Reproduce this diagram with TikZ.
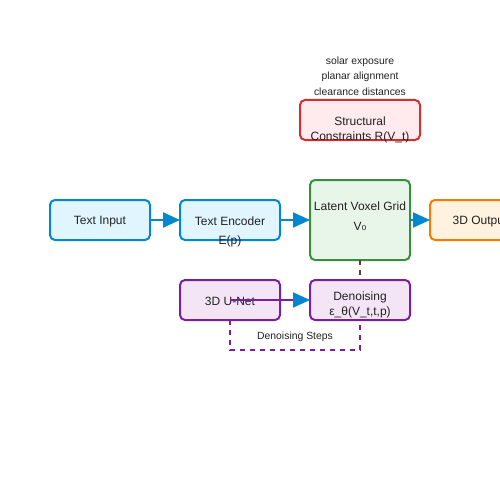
\documentclass[tikz,border=0pt]{standalone}
\usepackage{fontspec}
\setmainfont{Liberation Sans}
\newfontfamily\dejavu{DejaVu Sans}
\usetikzlibrary{arrows.meta}
\definecolor{bluestroke}{HTML}{0288D1}
\definecolor{bluefill}{HTML}{E1F5FE}
\definecolor{greenstroke}{HTML}{388E3C}
\definecolor{greenfill}{HTML}{E8F5E9}
\definecolor{orangestroke}{HTML}{F57C00}
\definecolor{orangefill}{HTML}{FFF3E0}
\definecolor{redstroke}{HTML}{D32F2F}
\definecolor{redfill}{HTML}{FFEBEE}
\definecolor{purplestroke}{HTML}{7B1FA2}
\definecolor{purplefill}{HTML}{F3E5F5}
\definecolor{brownline}{HTML}{5D4037}
\definecolor{txt}{HTML}{222222}
\tikzset{
  box/.style={draw, line width=2pt, rounded corners=5pt, inner sep=0pt, outer sep=0pt},
  lbl/.style={font=\fontsize{12}{14}\selectfont, text=txt, inner sep=0pt},
  small/.style={font=\fontsize{10.4}{12}\selectfont, text=txt, inner sep=0pt},
  head/.style={-{Triangle[length=17pt,width=15pt]}},
  flow/.style={line width=2pt, bluestroke, head},
}
\begin{document}
\begin{tikzpicture}[x=1pt,y=-1pt]
\useasboundingbox (0,0) rectangle (500,500);
\begin{scope}
\clip (0,0) rectangle (500,500);
% boxes
\node[box, draw=bluestroke, fill=bluefill, minimum width=100pt, minimum height=40pt] (input) at (100,220) {};
\node[box, draw=bluestroke, fill=bluefill, minimum width=100pt, minimum height=40pt] (enc) at (230,220) {};
\node[box, draw=greenstroke, fill=greenfill, minimum width=100pt, minimum height=80pt] (latent) at (360,220) {};
\node[box, draw=orangestroke, fill=orangefill, minimum width=100pt, minimum height=40pt] (out) at (480,220) {};
\node[box, draw=redstroke, fill=redfill, minimum width=120pt, minimum height=40pt] (cons) at (360,120) {};
\node[box, draw=purplestroke, fill=purplefill, minimum width=100pt, minimum height=40pt] (unet) at (230,300) {};
\node[box, draw=purplestroke, fill=purplefill, minimum width=100pt, minimum height=40pt] (den) at (360,300) {};
% labels
\node[lbl] (tinput) at (100,221.5) {Text Input};
\node[lbl] (tenc1) at (230,221.5) {Text Encoder};
\node[lbl] (tenc2) at (230,241.5) {E(p)};
\node[lbl] (tlat1) at (360,206.5) {Latent Voxel Grid};
\node[lbl] (tlat2) at (360,226.5) {V{\dejavu ₀}};
\node[lbl] (tout) at (480,221.5) {3D Output};
\node[lbl] (tcons1) at (360,121.5) {Structural};
\node[lbl] (tcons2) at (360,137) {Constraints R(V\_t)};
\node[lbl] (tunet) at (230,301.5) {3D U-Net};
\node[lbl] (tden1) at (360,297.5) {Denoising};
\node[lbl] (tden2) at (360,312.5) {ε\_θ(V\_t,t,p)};
\node[small] (a1) at (360,62) {solar exposure};
\node[small] (a2) at (360,77) {planar alignment};
\node[small] (a3) at (360,92) {clearance distances};
% connectors
\draw[flow] (input.east) -- (enc.west);
\draw[flow] (enc.east) -- (latent.west);
\draw[flow] (latent.east) -- (out.west);
\draw[line width=2pt, purplestroke] (unet.center) -- ([xshift=-15pt]den.west);
\draw[line width=2pt, bluestroke, head] ([xshift=-17pt]den.west) -- (den.west);
\draw[line width=1.5pt, brownline, dash pattern=on 5pt off 5pt] (latent.south) -- (den.north);
\coordinate (c1) at (230,350);
\coordinate (c2) at (360,350);
\draw[line width=1.5pt, purplestroke, dash pattern=on 5pt off 5pt] (unet.south) -- (c1) -- (c2) -- (den.south);
\node[small] (steps) at (295,337) {Denoising Steps};
\end{scope}
\end{tikzpicture}
\end{document}
